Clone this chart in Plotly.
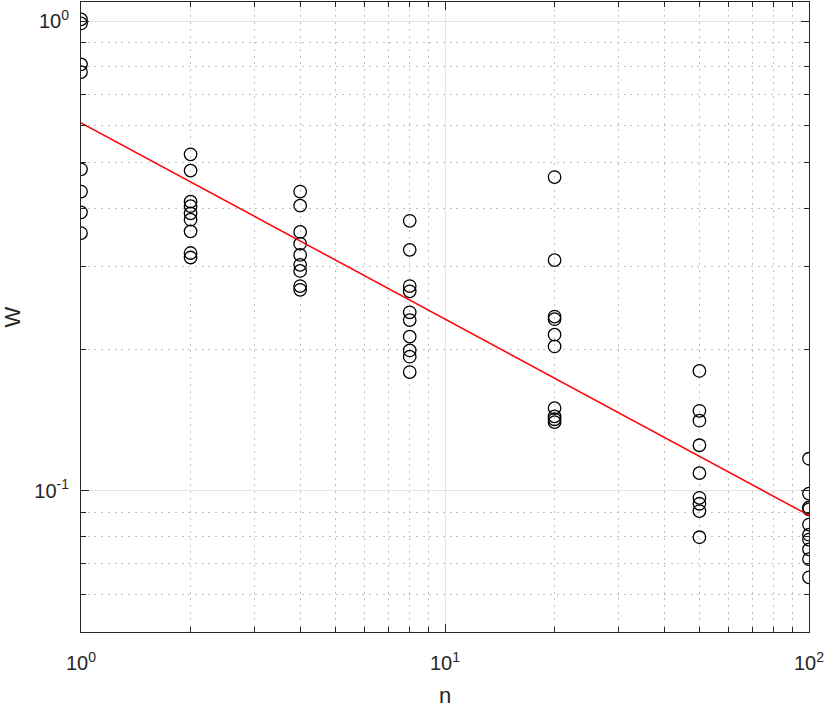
import plotly.graph_objects as go
import numpy as np

w_n1 = [1.01, 0.99, 0.81, 0.78, 0.484, 0.434, 0.392, 0.354]
w_n2 = [0.521, 0.481, 0.413, 0.404, 0.390, 0.378, 0.357, 0.321, 0.314]
w_n4 = [0.434, 0.405, 0.356, 0.336, 0.318, 0.303, 0.294, 0.273, 0.268]
w_n8 = [0.376, 0.326, 0.273, 0.266, 0.240, 0.231, 0.213, 0.199, 0.193, 0.179]
w_n20 = [0.466, 0.310, 0.235, 0.232, 0.215, 0.203, 0.150, 0.144, 0.142, 0.140]
w_n50 = [0.180, 0.148, 0.141, 0.125, 0.109, 0.0966, 0.0938, 0.0905, 0.0796]
w_n100 = [0.117, 0.0986, 0.0921, 0.0913, 0.0847, 0.0806, 0.0787, 0.0750, 0.0715, 0.0654]

n_values = [1, 2, 4, 8, 20, 50, 100]
w_groups = [w_n1, w_n2, w_n4, w_n8, w_n20, w_n50, w_n100]

# power-law fit line end points
fit_n = [1, 100]
fit_w = [0.608, 0.0886]

x_major = [1, 10, 100]
x_major_text = ['10<sup>0</sup>', '10<sup>1</sup>', '10<sup>2</sup>']
y_major = [0.1, 1]
y_major_text = ['10<sup>-1</sup>', '10<sup>0</sup>']
minor_vals = [2, 3, 4, 5, 6, 7, 8, 9, 20, 30, 40, 50, 60, 70, 80, 90]
minor_yvals = [0.06, 0.07, 0.08, 0.09, 0.2, 0.3, 0.4, 0.5, 0.6, 0.7, 0.8, 0.9]

xs = []
ys = []
for n, ws in zip(n_values, w_groups):
    xs += [n] * len(ws)
    ys += ws

fig = go.Figure()

fig.add_trace(go.Scatter(x=xs, y=ys, mode='markers',
                         marker=dict(symbol='circle-open', size=12.5,
                                     color='black', line=dict(width=1.3, color='black'))))

fig.add_trace(go.Scatter(x=fit_n, y=fit_w, mode='lines',
                         line=dict(color='#ff0000', width=1.5)))

axis_font = dict(family='Liberation Sans, Arial, sans-serif', size=20, color='#262626')
title_font = dict(family='Liberation Sans, Arial, sans-serif', size=22, color='#262626')

minor_style = dict(tickmode='array', ticks='inside', ticklen=5, tickcolor='#262626',
                   showgrid=True, gridcolor='#c2c2c2', griddash='2px,4.7px', gridwidth=1.2)

common = dict(type='log', automargin=False,
              showline=True, linecolor='#262626', linewidth=1, mirror='allticks',
              ticks='inside', ticklen=8, tickcolor='#262626', tickwidth=1,
              showgrid=True, gridcolor='#e3e3e3', gridwidth=1,
              zeroline=False, tickmode='array',
              tickfont=axis_font)

fig.update_xaxes(range=[0, 2],
                 tickvals=x_major, ticktext=x_major_text, ticklabelstandoff=13,
                 minor=dict(tickvals=minor_vals, **minor_style),
                 title=dict(text='n', font=title_font, standoff=18),
                 **common)

fig.update_yaxes(range=[np.log10(0.05), np.log10(1.1)],
                 tickvals=y_major, ticktext=y_major_text, ticklabelstandoff=7,
                 minor=dict(tickvals=minor_yvals, **minor_style),
                 title=dict(text='W', font=title_font, standoff=9),
                 **common)

fig.update_layout(width=829, height=708,
                  margin=dict(l=81, r=20, t=2, b=76),
                  plot_bgcolor='white', paper_bgcolor='white',
                  showlegend=False)

# drop the default page margin so the figure sits at the window's corner
fig.write_html("out.html", config={'displayModeBar': False},
               post_script="document.body.style.margin='0';")
